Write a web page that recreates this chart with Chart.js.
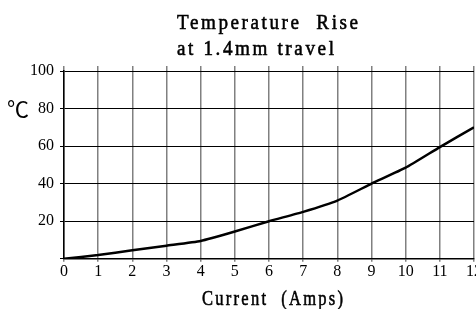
<!DOCTYPE html>
<html lang="en">
<head>
    <meta charset="UTF-8">
    <title>Temperature Rise</title>
    <script src="https://cdn.jsdelivr.net/npm/chart.js"></script>
    <style>
        body { margin: 0; background: #fff; overflow: hidden; }
    </style>
</head>
<body>
    <canvas id="riseChart" width="482" height="309"></canvas>
    <script>
        // values
        const currentAmps = [0, 1, 2, 3, 4, 5, 6, 7, 8, 9, 10, 11, 12];
        const tempRise = [0, 2, 4.5, 7, 9.5, 14.5, 20, 25, 31, 40, 48.5, 59.5, 70];
        const titleLines = ['Temperature  Rise', 'at 1.4mm travel'];
        const xTitle = 'Current  (Amps)';
        const yUnit = '\u2103';

        const serif = "'Liberation Serif', 'DejaVu Serif', serif";

        // the original uses a narrow, widely spaced face: add letter spacing, then squeeze to width
        const fitText = (ctx, text, x, y, width) => {
            ctx.save();
            ctx.letterSpacing = '3px';
            const w = ctx.measureText(text).width - 3;
            ctx.translate(x, y);
            ctx.scale(width / w, 1);
            ctx.fillText(text, 0, 0);
            ctx.strokeText(text, 0, 0);
            ctx.restore();
        };

        const labels = {
            id: 'labels',
            afterDraw(chart) {
                const ctx = chart.ctx;
                ctx.save();
                ctx.fillStyle = '#000';
                ctx.strokeStyle = '#000';
                ctx.lineWidth = 0.6;
                ctx.textAlign = 'left';
                ctx.textBaseline = 'alphabetic';
                ctx.font = '22px ' + serif;
                fitText(ctx, titleLines[0], 177, 29, 181);
                fitText(ctx, titleLines[1], 177, 55, 157);
                fitText(ctx, xTitle, 202, 305, 141);

                const y = chart.scales.y.getPixelForValue(80);
                ctx.font = "22px 'Noto Sans CJK JP', 'DejaVu Sans', sans-serif";
                ctx.textAlign = 'center';
                ctx.textBaseline = 'middle';
                ctx.fillText(yUnit, 18, y);
                ctx.restore();
            }
        };

        const ctx = document.getElementById('riseChart').getContext('2d');
        new Chart(ctx, {
            type: 'line',
            data: {
                datasets: [{
                    data: currentAmps.map((a, i) => ({ x: a, y: tempRise[i] })),
                    borderColor: '#000',
                    borderWidth: 2.5,
                    pointRadius: 0,
                    tension: 0.15,
                    fill: false
                }]
            },
            options: {
                responsive: false,
                animation: false,
                layout: { padding: { left: 0, right: 0, top: 66, bottom: 28 } },
                plugins: {
                    legend: { display: false },
                    tooltip: { enabled: false },
                    title: { display: false }
                },
                scales: {
                    x: {
                        type: 'linear',
                        min: 0,
                        max: 12,
                        ticks: {
                            stepSize: 1,
                            color: '#000',
                            padding: 0,
                            font: { family: serif, size: 16 }
                        },
                        grid: { color: '#808080', lineWidth: 1.5, tickLength: 3 },
                        border: { color: '#000', width: 1.5 }
                    },
                    xTop: {
                        type: 'linear',
                        position: 'top',
                        min: 0,
                        max: 12,
                        ticks: { stepSize: 1, display: false },
                        grid: { color: '#808080', lineWidth: 1.5, tickLength: 5, drawOnChartArea: false },
                        border: { display: false }
                    },
                    y: {
                        min: 0,
                        max: 100,
                        afterFit(scale) { scale.width = 64; },
                        ticks: {
                            stepSize: 20,
                            color: '#000',
                            padding: 6,
                            font: { family: serif, size: 16 },
                            callback: v => v === 0 ? '' : v
                        },
                        grid: { color: '#000', lineWidth: 1, tickLength: 4 },
                        border: { color: '#000', width: 1.5 }
                    }
                }
            },
            plugins: [labels]
        });
    </script>
</body>
</html>
